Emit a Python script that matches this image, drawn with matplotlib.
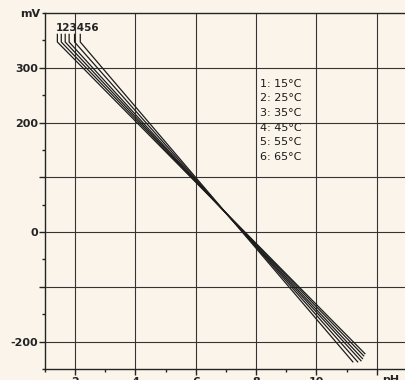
import matplotlib
matplotlib.use("Agg")
import matplotlib.pyplot as plt
from matplotlib.ticker import MultipleLocator, FixedLocator

# Electrode response lines (mV vs pH) for six temperatures
line_ids = ["1", "2", "3", "4", "5", "6"]
temperatures = ["15°C", "25°C", "35°C", "45°C", "55°C", "65°C"]
ph_start = [1.41, 1.54, 1.67, 1.80, 1.98, 2.17]
mv_start = [347, 347, 347, 347, 347, 347]
ph_end = [11.61, 11.57, 11.53, 11.48, 11.37, 11.21]
mv_end = [-222, -226, -231, -235, -237, -237]
mv_stub_top = 361

x_ticks = [2, 4, 6, 8, 10, 12]
x_labels = ["2", "4", "6", "8", "10", ""]
y_ticks = [-200, -100, 0, 100, 200, 300]
y_labels = ["-200", "", "0", "", "200", "300"]

BG = "#FBF4EA"
INK = "#232323"

fig = plt.figure(figsize=(4.06, 3.80), dpi=100, facecolor=BG)
ax = fig.add_axes([45 / 406, 11 / 380, 392 / 406, 356 / 380], facecolor=BG)
ax.set_xlim(1, 14)
ax.set_ylim(-250, 400)

for side in ("left", "top", "bottom"):
    ax.spines[side].set_color(INK)
    ax.spines[side].set_linewidth(1.0)
ax.spines["right"].set_visible(False)

ax.xaxis.set_major_locator(FixedLocator(x_ticks))
ax.set_xticklabels(x_labels)
ax.xaxis.set_minor_locator(MultipleLocator(1))
ax.yaxis.set_major_locator(FixedLocator(y_ticks))
ax.set_yticklabels(y_labels)
ax.yaxis.set_minor_locator(MultipleLocator(50))

ax.tick_params(axis="both", which="major", direction="out", length=4, width=1.0,
               color=INK, labelcolor=INK, labelsize=8, pad=2)
ax.tick_params(axis="y", which="major", pad=1)
ax.tick_params(axis="both", which="minor", direction="out", length=2.5, width=1.0,
               color=INK)
for lbl in ax.get_xticklabels() + ax.get_yticklabels():
    lbl.set_fontweight("bold")

ax.grid(True, which="major", color="#343434", linewidth=0.8)
ax.set_axisbelow(True)

# Response lines with short vertical leaders up to the numbers
for x0, y0, x1, y1 in zip(ph_start, mv_start, ph_end, mv_end):
    ax.plot([x0, x0, x1], [mv_stub_top, y0, y1], color="#1c1c1c", linewidth=0.9,
            solid_joinstyle="round", clip_on=False)

ax.text(1.35, 363, "".join(line_ids), fontsize=7.5, fontweight="bold", color=INK,
        ha="left", va="bottom")

# Temperature key
for i, (lid, t) in enumerate(zip(line_ids, temperatures)):
    ax.text(8.13, 271 - i * 26.8, f"{lid}: {t}", fontsize=8, color="#1a1a1a",
            ha="left", va="center")

fig.text(20 / 406, 1 - 14 / 380, "mV", fontsize=8, fontweight="bold", color=INK,
         ha="left", va="center")
ax.text(12.47, -261, "pH", fontsize=8, fontweight="bold", color=INK,
        ha="center", va="top")

fig.savefig("out.png", dpi=100, facecolor=BG)
